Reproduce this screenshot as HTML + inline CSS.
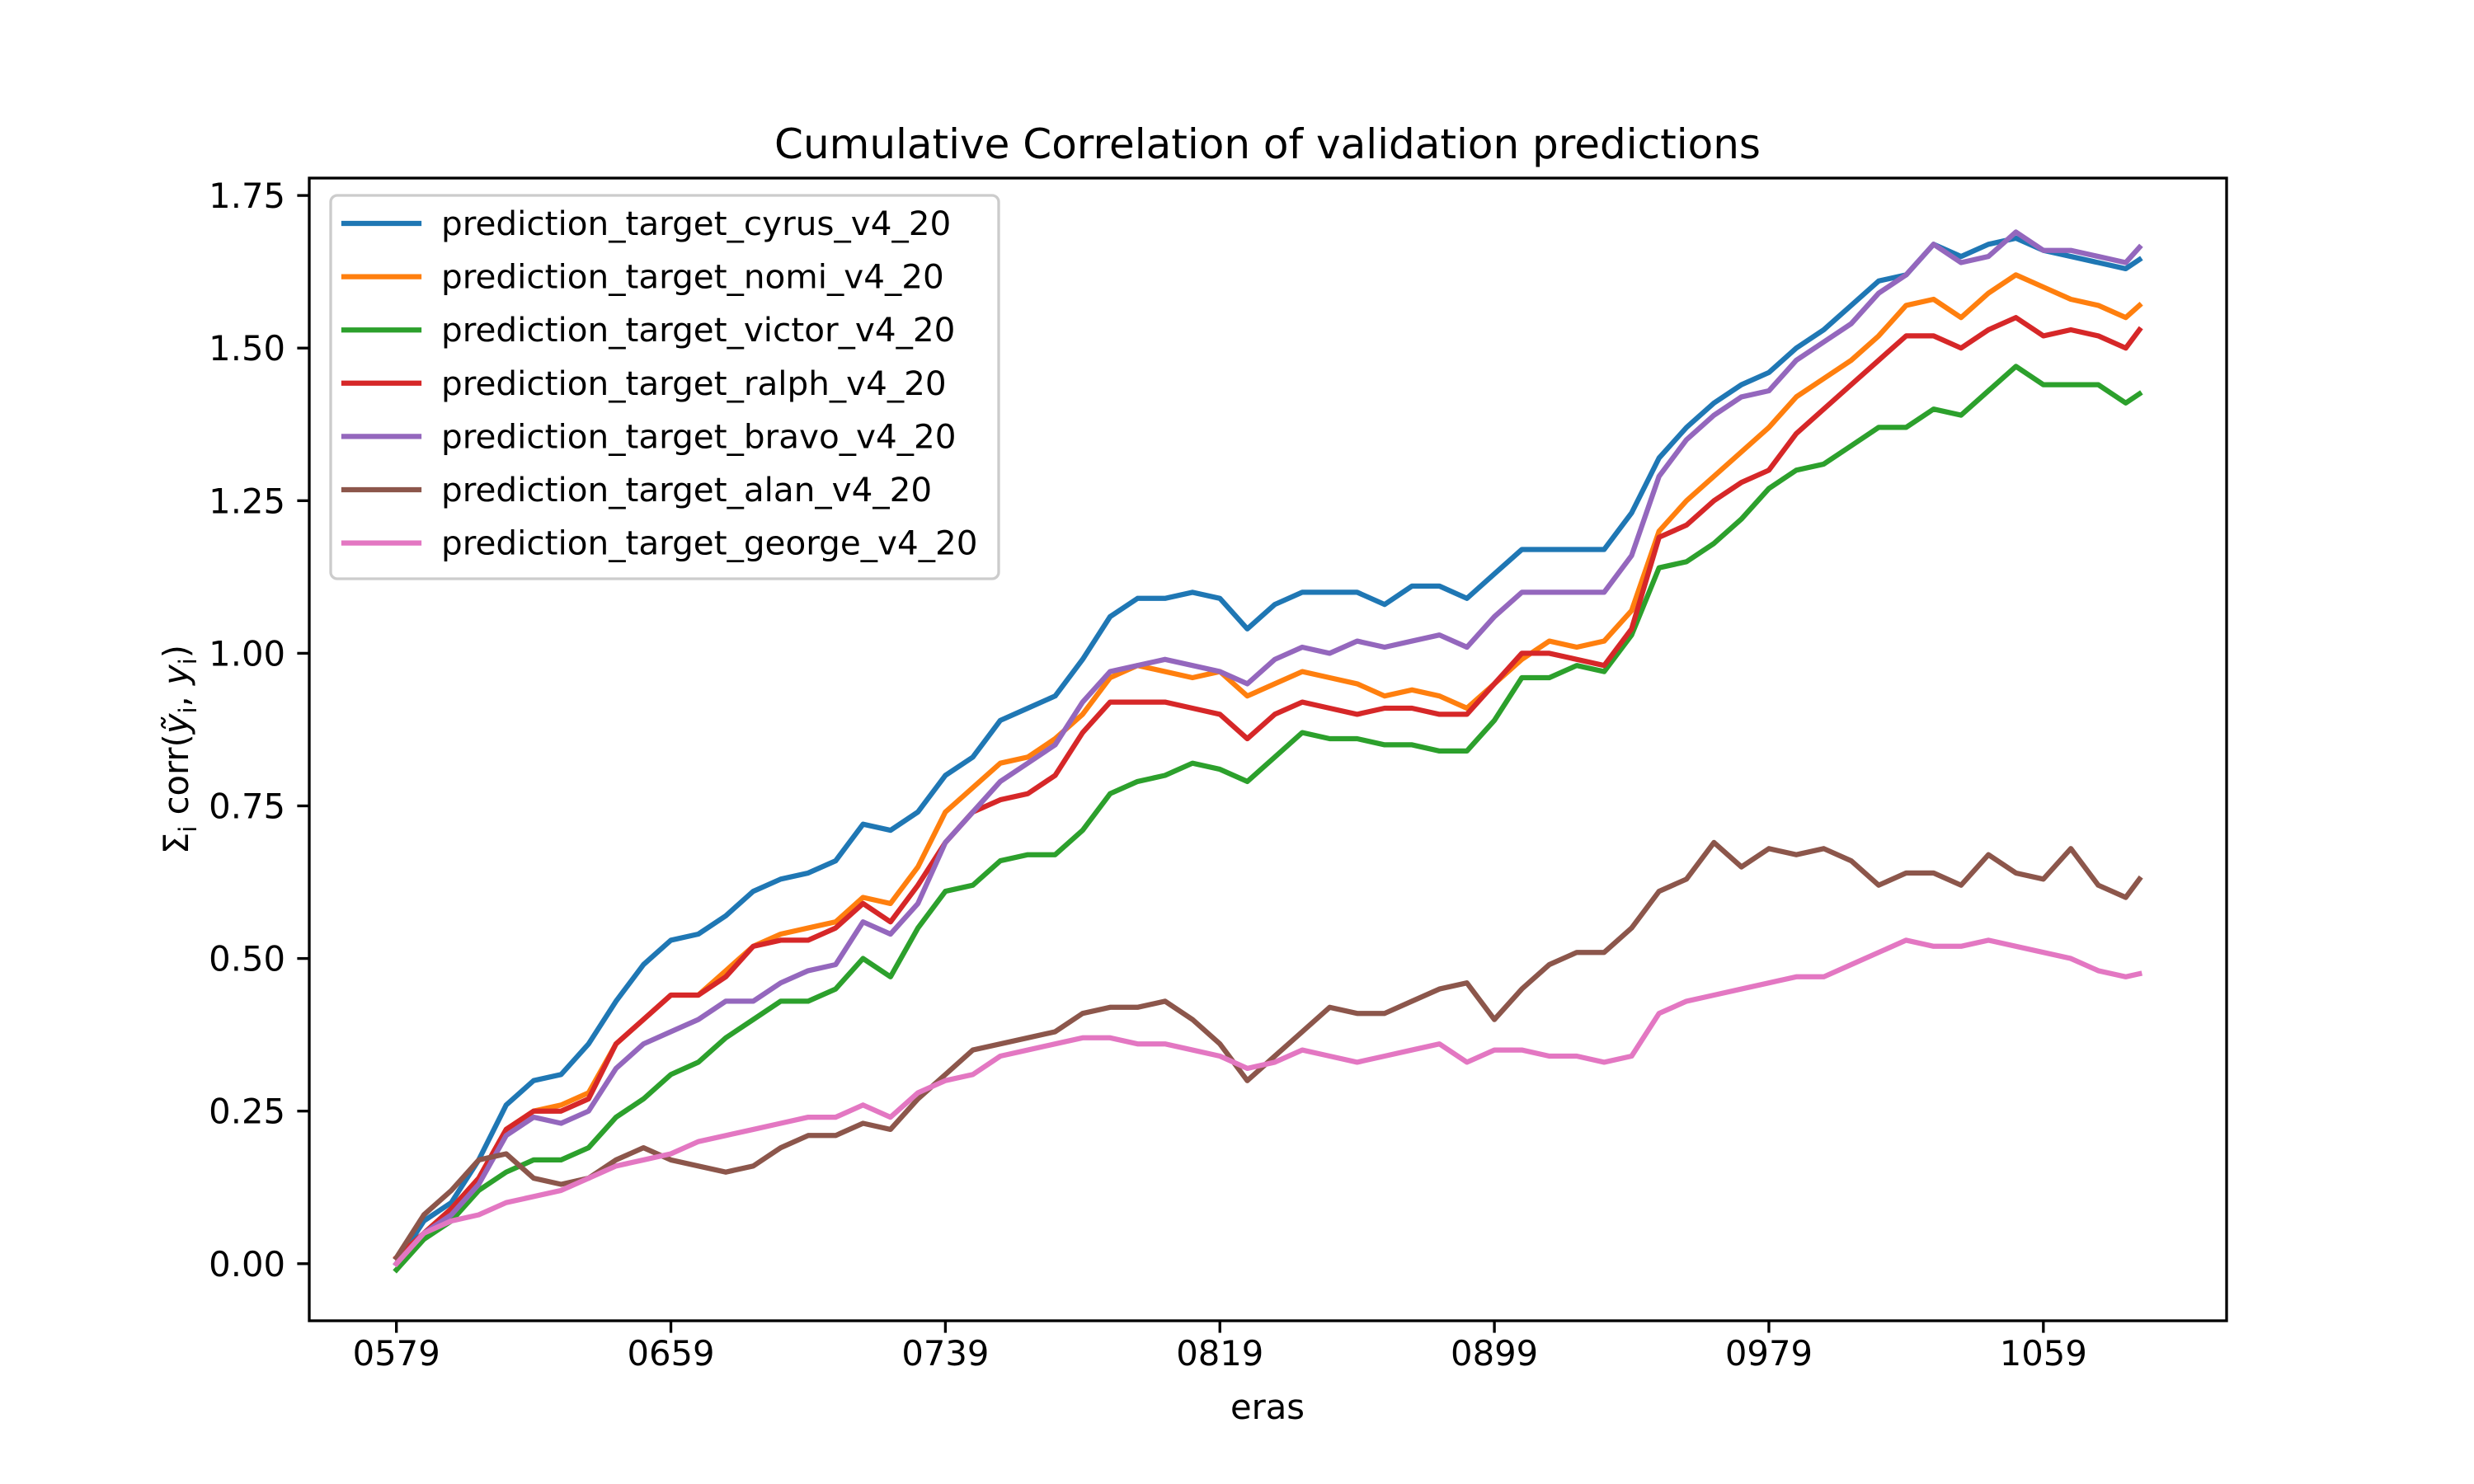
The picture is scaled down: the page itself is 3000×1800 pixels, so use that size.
<!DOCTYPE html>
<html><head><meta charset="utf-8">
<style>
html,body{margin:0;padding:0;background:#fff;}
svg{display:block;font-family:"DejaVu Sans","Liberation Sans",sans-serif;}
</style></head>
<body>
<svg id="chart" width="3000" height="1800" viewBox="0 0 3000 1800" xmlns="http://www.w3.org/2000/svg">
<rect width="3000" height="1800" fill="#fff"/>
<text x="1537" y="192" font-size="50" text-anchor="middle" fill="#000">Cumulative Correlation of validation predictions</text>
<text x="1537" y="1721" font-size="41.7" text-anchor="middle" fill="#000">eras</text>
<text transform="translate(228,909) rotate(-90)" font-size="41.7" text-anchor="middle" fill="#000">Σ<tspan font-size="29" dy="10">i</tspan><tspan dy="-10"> corr(</tspan><tspan font-style="italic">ỹ</tspan><tspan font-size="29" dy="10">i</tspan><tspan dy="-10">, </tspan><tspan font-style="italic">y</tspan><tspan font-size="29" dy="10">i</tspan><tspan dy="-10">)</tspan></text>
<g id="plot"></g>
<g id="axes"></g>
<g id="legend"></g>
</svg>
<script>
const eras = [579,587,595,603,611,619,627,635,643,651,659,667,675,683,691,699,707,715,723,731,739,747,755,763,771,779,787,795,803,811,819,827,835,843,851,859,867,875,883,891,899,907,915,923,931,939,947,955,963,971,979,987,995,1003,1011,1019,1027,1035,1043,1051,1059,1067,1075,1083,1087];
const seriesNames = ["prediction_target_cyrus_v4_20","prediction_target_nomi_v4_20","prediction_target_victor_v4_20","prediction_target_ralph_v4_20","prediction_target_bravo_v4_20","prediction_target_alan_v4_20","prediction_target_george_v4_20"];
const cyrus = [0.0,0.07,0.10,0.17,0.26,0.30,0.31,0.36,0.43,0.49,0.53,0.54,0.57,0.61,0.63,0.64,0.66,0.72,0.71,0.74,0.80,0.83,0.89,0.91,0.93,0.99,1.06,1.09,1.09,1.10,1.09,1.04,1.08,1.10,1.10,1.10,1.08,1.11,1.11,1.09,1.13,1.17,1.17,1.17,1.17,1.23,1.32,1.37,1.41,1.44,1.46,1.50,1.53,1.57,1.61,1.62,1.67,1.65,1.67,1.68,1.66,1.65,1.64,1.63,1.645];
const nomi = [0.01,0.05,0.09,0.14,0.22,0.25,0.26,0.28,0.36,0.40,0.44,0.44,0.48,0.52,0.54,0.55,0.56,0.60,0.59,0.65,0.74,0.78,0.82,0.83,0.86,0.90,0.96,0.98,0.97,0.96,0.97,0.93,0.95,0.97,0.96,0.95,0.93,0.94,0.93,0.91,0.95,0.99,1.02,1.01,1.02,1.07,1.20,1.25,1.29,1.33,1.37,1.42,1.45,1.48,1.52,1.57,1.58,1.55,1.59,1.62,1.60,1.58,1.57,1.55,1.57];
const victor = [-0.01,0.04,0.07,0.12,0.15,0.17,0.17,0.19,0.24,0.27,0.31,0.33,0.37,0.40,0.43,0.43,0.45,0.50,0.47,0.55,0.61,0.62,0.66,0.67,0.67,0.71,0.77,0.79,0.80,0.82,0.81,0.79,0.83,0.87,0.86,0.86,0.85,0.85,0.84,0.84,0.89,0.96,0.96,0.98,0.97,1.03,1.14,1.15,1.18,1.22,1.27,1.30,1.31,1.34,1.37,1.37,1.40,1.39,1.43,1.47,1.44,1.44,1.44,1.41,1.425];
const ralph = [0.01,0.05,0.09,0.14,0.22,0.25,0.25,0.27,0.36,0.40,0.44,0.44,0.47,0.52,0.53,0.53,0.55,0.59,0.56,0.62,0.69,0.74,0.76,0.77,0.80,0.87,0.92,0.92,0.92,0.91,0.90,0.86,0.90,0.92,0.91,0.90,0.91,0.91,0.90,0.90,0.95,1.00,1.00,0.99,0.98,1.04,1.19,1.21,1.25,1.28,1.30,1.36,1.40,1.44,1.48,1.52,1.52,1.50,1.53,1.55,1.52,1.53,1.52,1.50,1.53];
const bravo = [0.0,0.05,0.08,0.13,0.21,0.24,0.23,0.25,0.32,0.36,0.38,0.40,0.43,0.43,0.46,0.48,0.49,0.56,0.54,0.59,0.69,0.74,0.79,0.82,0.85,0.92,0.97,0.98,0.99,0.98,0.97,0.95,0.99,1.01,1.00,1.02,1.01,1.02,1.03,1.01,1.06,1.10,1.10,1.10,1.10,1.16,1.29,1.35,1.39,1.42,1.43,1.48,1.51,1.54,1.59,1.62,1.67,1.64,1.65,1.69,1.66,1.66,1.65,1.64,1.665];
const alan = [0.01,0.08,0.12,0.17,0.18,0.14,0.13,0.14,0.17,0.19,0.17,0.16,0.15,0.16,0.19,0.21,0.21,0.23,0.22,0.27,0.31,0.35,0.36,0.37,0.38,0.41,0.42,0.42,0.43,0.40,0.36,0.30,0.34,0.38,0.42,0.41,0.41,0.43,0.45,0.46,0.40,0.45,0.49,0.51,0.51,0.55,0.61,0.63,0.69,0.65,0.68,0.67,0.68,0.66,0.62,0.64,0.64,0.62,0.67,0.64,0.63,0.68,0.62,0.60,0.63];
const george = [0.0,0.05,0.07,0.08,0.10,0.11,0.12,0.14,0.16,0.17,0.18,0.20,0.21,0.22,0.23,0.24,0.24,0.26,0.24,0.28,0.30,0.31,0.34,0.35,0.36,0.37,0.37,0.36,0.36,0.35,0.34,0.32,0.33,0.35,0.34,0.33,0.34,0.35,0.36,0.33,0.35,0.35,0.34,0.34,0.33,0.34,0.41,0.43,0.44,0.45,0.46,0.47,0.47,0.49,0.51,0.53,0.52,0.52,0.53,0.52,0.51,0.50,0.48,0.47,0.475];
const xTicks = [579,659,739,819,899,979,1059];
const xTickLabels = ["0579","0659","0739","0819","0899","0979","1059"];
const yTicks = [0,0.25,0.5,0.75,1.0,1.25,1.5,1.75];
const yTickLabels = ["0.00","0.25","0.50","0.75","1.00","1.25","1.50","1.75"];

const NS="http://www.w3.org/2000/svg";
const L=375,R=2700,T=216,B=1602;
const xMin=553.6,xMax=1112.4,yMin=-0.0935,yMax=1.7785;
function xs(v){return L+(v-xMin)/(xMax-xMin)*(R-L);}
function ys(v){return B-(v-yMin)/(yMax-yMin)*(B-T);}
function mk(tag,attrs,parent){const e=document.createElementNS(NS,tag);for(const k in attrs)e.setAttribute(k,attrs[k]);parent.appendChild(e);return e;}

const allSeries=[cyrus,nomi,victor,ralph,bravo,alan,george];
const colors=["#1f77b4","#ff7f0e","#2ca02c","#d62728","#9467bd","#8c564b","#e377c2"];
const keys=["cyrus","nomi","victor","ralph","bravo","alan","george"];
const plot=document.getElementById('plot');
allSeries.forEach((s,i)=>{
  const d=s.map((v,j)=>(j?'L':'M')+xs(eras[j]).toFixed(1)+' '+ys(v).toFixed(1)).join(' ');
  const p=mk('path',{d:d,fill:'none',stroke:colors[i],'stroke-width':6.25,'stroke-linejoin':'round','stroke-linecap':'square'},plot);
  
  
});

const axes=document.getElementById('axes');
const frame=mk('rect',{x:L,y:T,width:R-L,height:B-T,fill:'none',stroke:'#000','stroke-width':3.33},axes);


xTicks.forEach((t,i)=>{
  const x=xs(t);
  const tk=mk('line',{x1:x,x2:x,y1:B,y2:B+14.6,stroke:'#000','stroke-width':3.33},axes);
  
  
  const tx=mk('text',{x:x,y:B+54,'font-size':41.7,'text-anchor':'middle',fill:'#000'},axes);
  tx.textContent=xTickLabels[i];
  
  
});
yTicks.forEach((t,i)=>{
  const y=ys(t);
  const tk=mk('line',{x1:L-14.6,x2:L,y1:y,y2:y,stroke:'#000','stroke-width':3.33},axes);
  
  
  const tx=mk('text',{x:L-29,y:y+15,'font-size':41.7,'text-anchor':'end',fill:'#000'},axes);
  tx.textContent=yTickLabels[i];
  
  
});

const lg=document.getElementById('legend');


const box=mk('rect',{x:401,y:237,width:810,height:465,rx:8,fill:'#fff','fill-opacity':0.8,stroke:'#ccc','stroke-width':3.33},lg);


seriesNames.forEach((n,i)=>{
  const y=271+i*64.6;
  const g=mk('g',{},lg);
  
  
  mk('line',{x1:417,x2:508,y1:y,y2:y,stroke:colors[i],'stroke-width':6.25,'stroke-linecap':'square'},g);
  const tx=mk('text',{x:535,y:y+14,'font-size':40.5,fill:'#000'},g);
  tx.textContent=n;
});
</script>
</body></html>
